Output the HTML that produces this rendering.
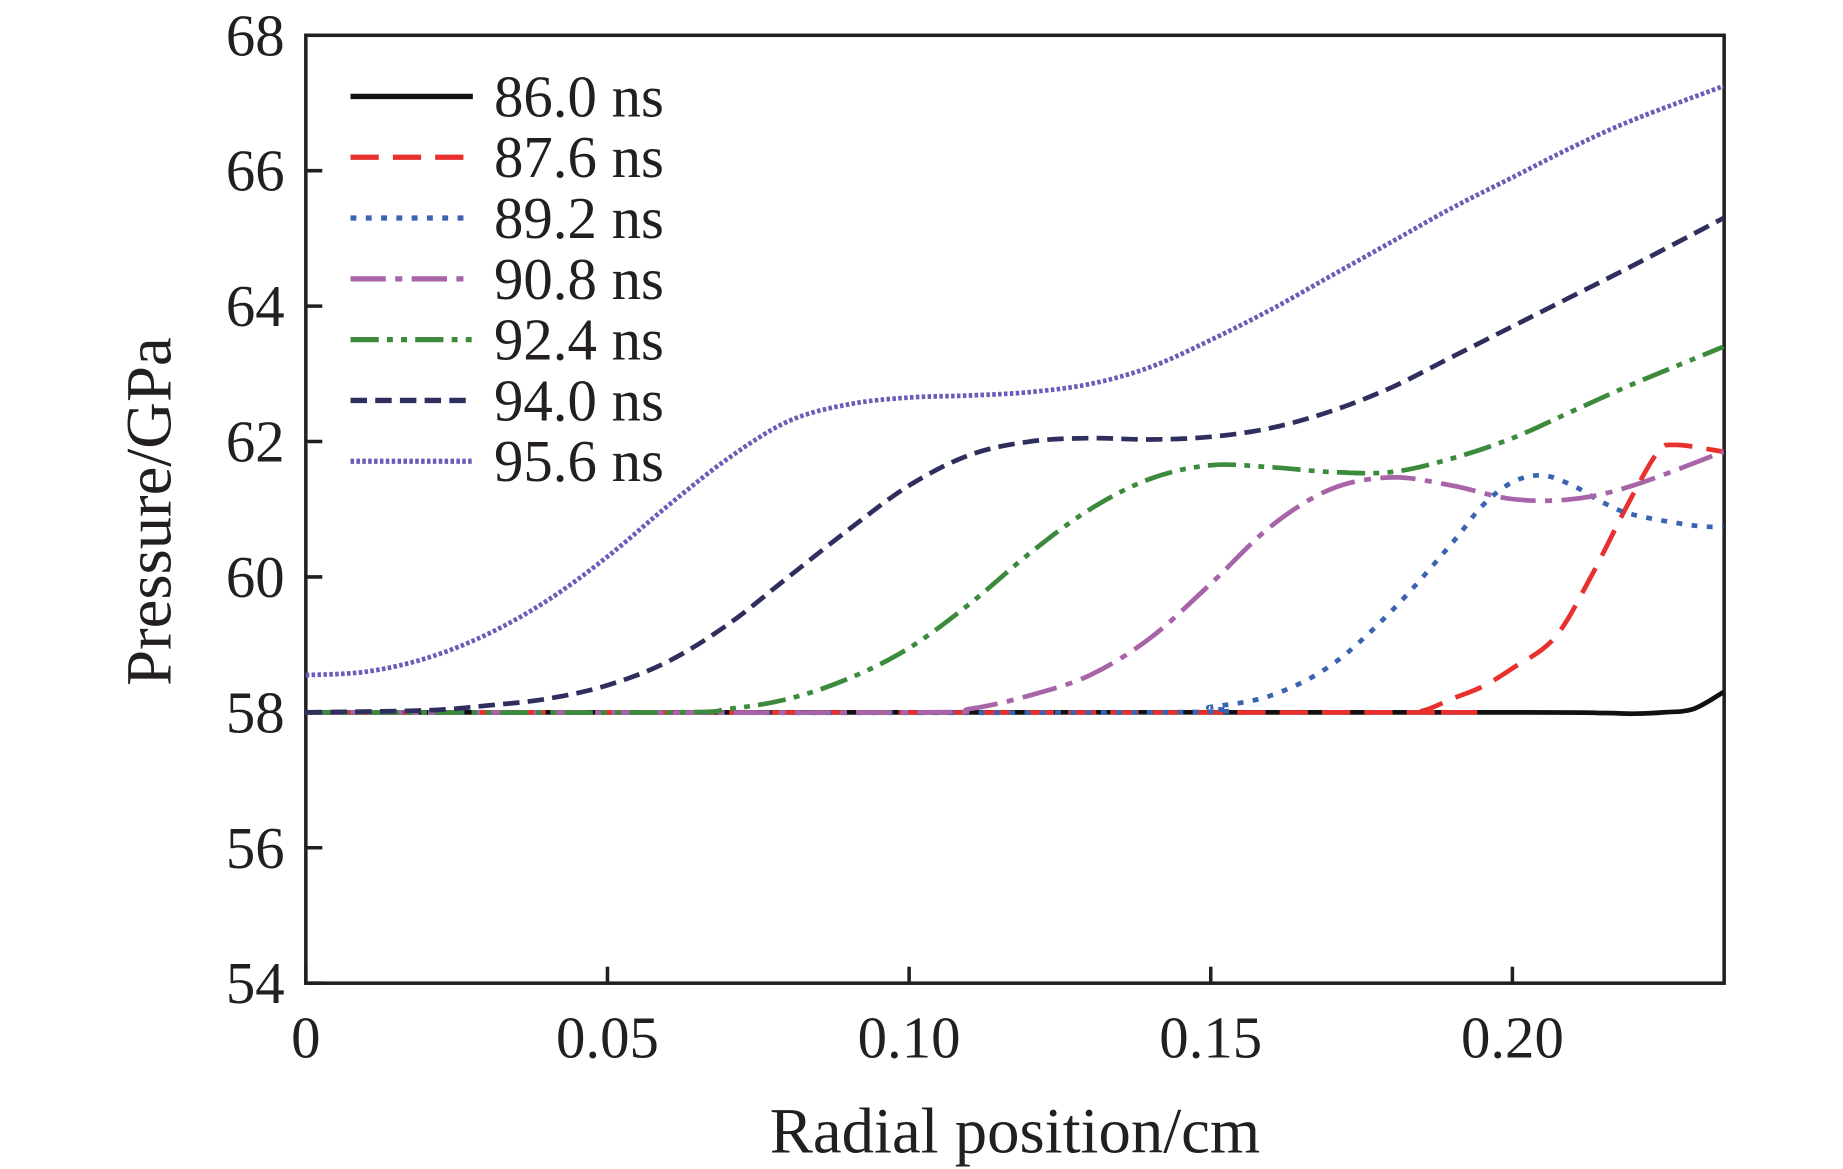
<!DOCTYPE html>
<html><head><meta charset="utf-8"><style>
html,body{margin:0;padding:0;background:#fff;}
svg{display:block;}
text{font-family:"Liberation Serif",serif;fill:#231f20;}
</style></head><body>
<svg id="chart" width="1843" height="1169" viewBox="0 0 1567 994" xmlns="http://www.w3.org/2000/svg">
<g id="axes"></g>
<g id="series"></g>
<g id="legend"></g>
<text x="863" y="980" font-size="55" text-anchor="middle">Radial position/cm</text>
<text transform="translate(145,435) rotate(-90)" font-size="55" text-anchor="middle">Pressure/GPa</text>
</svg>
<script>
const xTicks=[0,0.05,0.10,0.15,0.20];
const xTickLabels=["0","0.05","0.10","0.15","0.20"];
const yTicks=[54,56,58,60,62,64,66,68];
const seriesNames=["86.0 ns","87.6 ns","89.2 ns","90.8 ns","92.4 ns","94.0 ns","95.6 ns"];
const s860=[[0,58],[0.1,58],[0.2,58],[0.215,57.99],[0.22,57.98],[0.225,58],[0.23,58.05],[0.235,58.3]];
const s876=[[0,58],[0.18,58],[0.185,58.02],[0.19,58.2],[0.195,58.38],[0.2,58.65],[0.207,59.1],[0.213,60.0],[0.219,61.05],[0.224,61.83],[0.227,61.95],[0.235,61.85]];
const s892=[[0,58],[0.14,58],[0.15,58.08],[0.16,58.25],[0.17,58.7],[0.18,59.5],[0.19,60.5],[0.195,61.05],[0.2,61.4],[0.205,61.5],[0.21,61.35],[0.215,61.1],[0.22,60.92],[0.23,60.76],[0.235,60.74]];
const s908=[[0,58],[0.1,58],[0.11,58.05],[0.12,58.25],[0.13,58.55],[0.14,59.1],[0.15,59.9],[0.16,60.75],[0.17,61.3],[0.18,61.47],[0.19,61.35],[0.2,61.15],[0.21,61.15],[0.22,61.35],[0.235,61.85]];
const s924=[[0,58],[0.06,58],[0.07,58.05],[0.08,58.2],[0.09,58.5],[0.1,58.95],[0.11,59.6],[0.12,60.35],[0.13,61.0],[0.14,61.45],[0.15,61.65],[0.16,61.62],[0.17,61.55],[0.18,61.55],[0.19,61.75],[0.2,62.05],[0.21,62.45],[0.22,62.85],[0.235,63.4]];
const s940=[[0,58],[0.02,58.03],[0.03,58.1],[0.04,58.2],[0.05,58.4],[0.06,58.75],[0.07,59.3],[0.08,60.0],[0.09,60.7],[0.1,61.35],[0.11,61.8],[0.12,62.0],[0.13,62.05],[0.14,62.03],[0.15,62.07],[0.16,62.2],[0.17,62.45],[0.18,62.8],[0.19,63.25],[0.2,63.7],[0.21,64.15],[0.22,64.6],[0.235,65.3]];
const s956=[[0,58.55],[0.01,58.6],[0.02,58.8],[0.03,59.15],[0.04,59.65],[0.05,60.3],[0.06,61.05],[0.07,61.75],[0.08,62.3],[0.09,62.55],[0.1,62.65],[0.11,62.68],[0.12,62.73],[0.13,62.85],[0.14,63.1],[0.15,63.5],[0.16,63.95],[0.17,64.45],[0.18,64.95],[0.19,65.45],[0.2,65.9],[0.21,66.35],[0.22,66.75],[0.235,67.25]];
const allSeries=[s860,s876,s892,s908,s924,s940,s956];
const colors=["#111","#e8302f","#3a64b0","#a864a8","#3c8a3c","#2e2f5e","#6a5cb8"];
const dashes=["","24 12","5 8","30 8 6 8","24 7 5 7 5 7","14 7","3 2"];
const L=260,R=1466,T=30,B=836,XMAX=0.2351;
const sx=v=>L+v/XMAX*(R-L);
const sy=v=>B-(v-54)/14*(B-T);
const NS="http://www.w3.org/2000/svg";
function mk(tag,attrs,parent){const e=document.createElementNS(NS,tag);for(const k in attrs)e.setAttribute(k,attrs[k]);parent.appendChild(e);return e;}
const axes=document.getElementById('axes');
const fr=mk('rect',{x:L,y:T,width:R-L,height:B-T,fill:'none',stroke:'#231f20','stroke-width':3},axes);


xTicks.forEach((v,i)=>{
  const t=mk('line',{x1:sx(v),x2:sx(v),y1:B,y2:B-14,stroke:'#231f20','stroke-width':3},axes);
  
  
  const l=mk('text',{x:sx(v),y:B+63,'font-size':50,'text-anchor':'middle'},axes);
  l.textContent=xTickLabels[i];
  
  
});
yTicks.forEach(v=>{
  const t=mk('line',{x1:L,x2:L+14,y1:sy(v),y2:sy(v),stroke:'#231f20','stroke-width':3},axes);
  
  
  const l=mk('text',{x:L-18,y:sy(v)+17,'font-size':50,'text-anchor':'end'},axes);
  l.textContent=String(v);
  
  
});
function pathFor(data){
  const p=data.map(d=>[sx(d[0]),sy(d[1])]);
  let s=`M${p[0][0]},${p[0][1]}`;
  for(let i=0;i<p.length-1;i++){
    const p0=p[Math.max(0,i-1)],p1=p[i],p2=p[i+1],p3=p[Math.min(p.length-1,i+2)];
    const c1=[p1[0]+(p2[0]-p0[0])/6,p1[1]+(p2[1]-p0[1])/6];
    const c2=[p2[0]-(p3[0]-p1[0])/6,p2[1]-(p3[1]-p1[1])/6];
    s+=` C${c1[0]},${c1[1]} ${c2[0]},${c2[1]} ${p2[0]},${p2[1]}`;
  }
  return s;
}
const sg=document.getElementById('series');
allSeries.forEach((d,i)=>{
  const e=mk('path',{d:pathFor(d),fill:'none',stroke:colors[i],'stroke-width':4,'stroke-dasharray':dashes[i]},sg);
  
  
});
const lg=document.getElementById('legend');
seriesNames.forEach((n,i)=>{
  const y=82+i*51.7;
  const l=mk('line',{x1:298,x2:402,y1:y,y2:y,stroke:colors[i],'stroke-width':4.5,'stroke-dasharray':dashes[i]},lg);
  
  
  const t=mk('text',{x:420,y:y+17,'font-size':50},lg);
  t.textContent=n;
  
  
});
</script>
</body></html>
